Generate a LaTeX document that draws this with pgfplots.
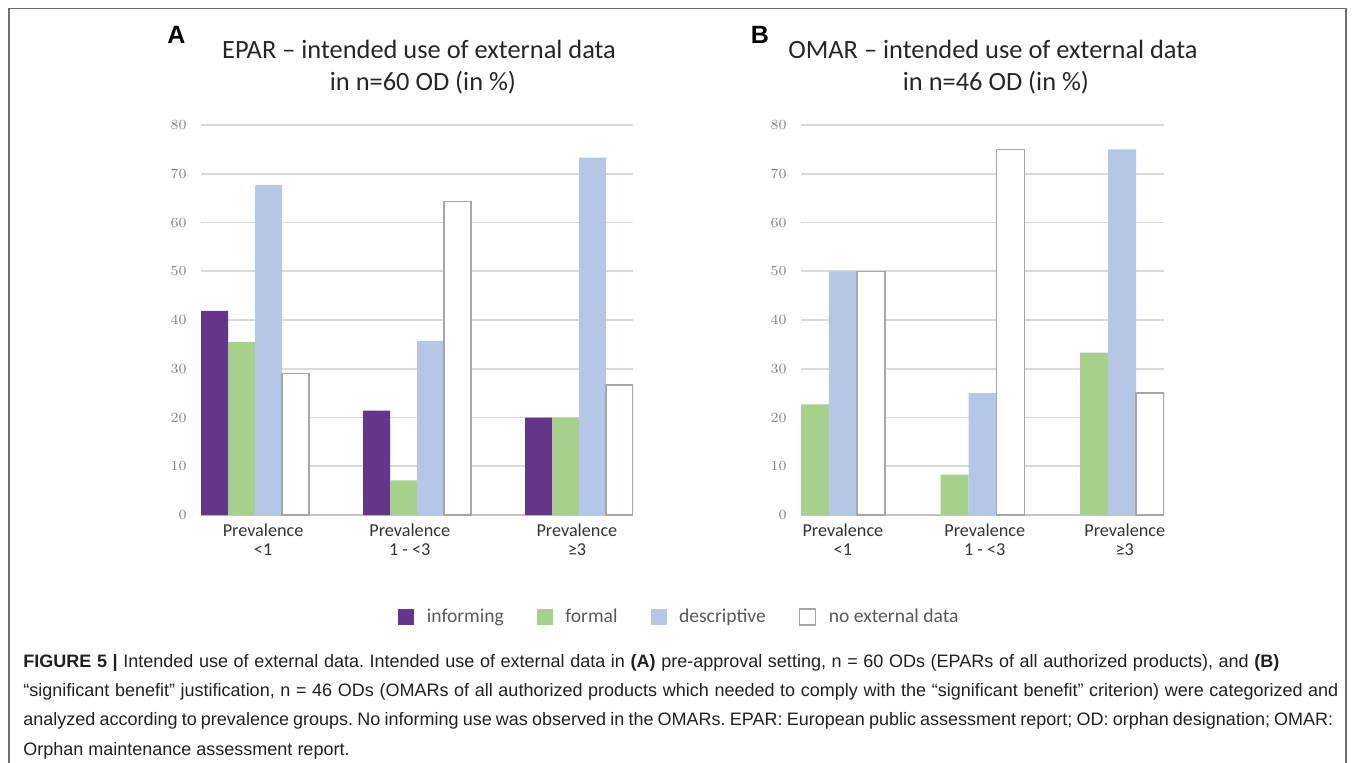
\documentclass[border=0pt]{standalone}
\usepackage{pgfplots}
\pgfplotsset{compat=1.18}
\usepackage{fontspec}
\setmainfont{Carlito}
\newfontfamily\arial{Liberation Sans}
\frenchspacing
\definecolor{cInf}{HTML}{65358B}
\definecolor{cFor}{HTML}{A8D08D}
\definecolor{cDes}{HTML}{B4C7E7}
\definecolor{cNoneB}{HTML}{A6A6A6}
\definecolor{cGrid}{HTML}{D9D9D9}
\definecolor{cAxis}{HTML}{C4C4C4}
\definecolor{cTick}{HTML}{7F7F7F}
\definecolor{cLeg}{HTML}{595959}
\definecolor{cTitle}{HTML}{262626}
\definecolor{cCat}{HTML}{333333}
\definecolor{cFrame}{HTML}{6E6E6E}
\definecolor{cCap}{HTML}{231F20}
\pgfplotsset{
  mybars/.style={
    scale only axis, height=195pt, ymin=0, ymax=80, ytick={0,10,...,80},
    ybar=0pt, ymajorgrids, grid style={draw=cGrid, line width=0.8pt},
    axis x line*=bottom, axis y line*=left,
    y axis line style={draw=none}, x axis line style={draw=cAxis, line width=0.8pt},
    major tick length=0pt, tick style={draw=none},
    yticklabel style={font=\fontsize{7.4}{8}\selectfont, text=cTick, inner sep=0pt, xshift=-7pt},
    xticklabel style={font=\fontsize{9.1}{9.5}\selectfont, text=cCat, align=center, inner sep=0pt, yshift=-4.4pt},
    anchor=south west,
  }
}
\begin{document}
\begin{tikzpicture}
\useasboundingbox (0pt,0pt) rectangle (677.5pt,-381pt);
\draw[cFrame, line width=0.8pt] (4.5pt,-382pt) -- (4.5pt,-4.3pt) -- (673pt,-4.3pt) -- (673pt,-382pt);

\begin{axis}[mybars, at={(100.5pt,-257.5pt)}, width=216pt,
  xmin=-0.33333, xmax=2.33333, bar width=0.166667,
  xtick={0.05,0.955,1.987},
  xticklabels={{Prevalence\\<1},{Prevalence\\1 - <3},{Prevalence\\≥3}},
  legend columns=4,
  legend style={at={(1.11,-0.262)}, anchor=center, draw=none, fill=none,
    font=\fontsize{9.8}{11}\selectfont, text=cLeg,
    /tikz/every even column/.append style={column sep=14.5pt},
    /tikz/every odd column/.append style={column sep=4.2pt}},
  legend image code/.code={\path[#1] (0pt,-4pt) rectangle (8pt,4pt);},
]
\addplot[fill=cInf, draw=none] coordinates {(0,41.9) (1,21.4) (2,20.0)};
\addplot[fill=cFor, draw=none] coordinates {(0,35.5) (1,7.1) (2,20.0)};
\addplot[fill=cDes, draw=none] coordinates {(0,67.7) (1,35.7) (2,73.3)};
\addplot[fill=white, draw=cNoneB, line width=0.75pt] coordinates {(0,29.0) (1,64.3) (2,26.7)};
\legend{informing, formal, descriptive, no external data}
\end{axis}

\begin{axis}[mybars, at={(400.5pt,-257.5pt)}, width=181.5pt,
  xmin=-0.3, xmax=2.3, bar width=0.2,
  xtick={0,1.016,2.019},
  xticklabels={{Prevalence\\<1},{Prevalence\\1 - <3},{Prevalence\\≥3}},
]
\addplot[fill=cFor, draw=none] coordinates {(0,22.7) (1,8.3) (2,33.3)};
\addplot[fill=cDes, draw=none] coordinates {(0,50.0) (1,25.0) (2,75.0)};
\addplot[fill=white, draw=cNoneB, line width=0.75pt] coordinates {(0,50.0) (1,75.0) (2,25.0)};
\end{axis}

\node[anchor=base, font=\fontsize{13.2}{16}\selectfont, text=cTitle] at (209.5pt,-29pt) {EPAR – intended use of external data};
\node[anchor=base, font=\fontsize{13.2}{16}\selectfont, text=cTitle] at (211.5pt,-45pt) {in n=60 OD (in \%)};
\node[anchor=base, font=\fontsize{13.2}{16}\selectfont, text=cTitle] at (496.5pt,-29pt) {OMAR – intended use of external data};
\node[anchor=base, font=\fontsize{13.2}{16}\selectfont, text=cTitle] at (498pt,-45pt) {in n=46 OD (in \%)};
\node[anchor=base, font=\arial\bfseries\fontsize{12.5}{14}\selectfont] at (88.25pt,-21.5pt) {A};
\node[anchor=base, font=\arial\bfseries\fontsize{12.5}{14}\selectfont] at (380pt,-21.5pt) {B};

\begin{scope}[every node/.style={anchor=base west, inner sep=0pt, text=cCap, font=\arial\fontsize{9}{10}\selectfont}]
\node at (11.5pt,-333.5pt) {\makebox[628pt][s]{\textbf{FIGURE 5 |} Intended use of external data. Intended use of external data in \textbf{(A)} pre-approval setting, n = 60 ODs (EPARs of all authorized products), and \textbf{(B)}}};
\node at (11.5pt,-348.15pt) {\makebox[657.5pt][s]{“significant benefit” justification, n = 46 ODs (OMARs of all authorized products which needed to comply with the “significant benefit” criterion) were categorized and}};
\node at (11.5pt,-362.8pt) {\makebox[655pt][s]{analyzed according to prevalence groups. No informing use was observed in the OMARs. EPAR: European public assessment report; OD: orphan designation; OMAR:}};
\node at (11.5pt,-377.5pt) {Orphan maintenance assessment report.};
\end{scope}
\end{tikzpicture}
\end{document}
